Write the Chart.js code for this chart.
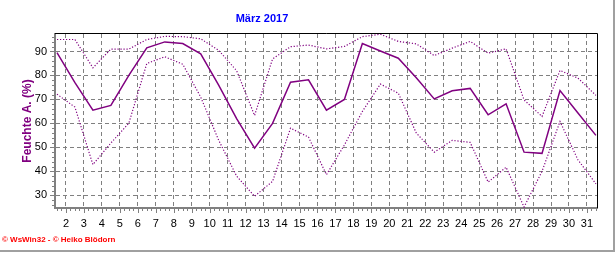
<!DOCTYPE html>
<html><head><meta charset="utf-8">
<script src="https://cdn.jsdelivr.net/npm/chart.js@4/dist/chart.umd.min.js"></script>
<style>
html,body{margin:0;padding:0;background:#fff;}
#wrap{position:relative;width:616px;height:253px;overflow:hidden;background:#fff;}
#frame{position:absolute;left:0;top:0;width:613px;height:250px;border-right:2px solid #a0a0a0;border-bottom:2px solid #a0a0a0;}
#title{position:absolute;top:12px;left:0;width:524px;text-align:center;font:bold 11px "Liberation Sans",Arial,sans-serif;color:#0000ff;}
#foot{position:absolute;left:2px;top:235px;font:bold 8px "Liberation Sans",Arial,sans-serif;color:#ff0000;white-space:nowrap;}
canvas{position:absolute;left:0;top:0;}
</style>
</head><body>
<div id="wrap">
<div id="frame"></div>
<canvas id="c" width="616" height="253"></canvas>
<div id="title">März 2017</div>
<div id="foot">© WsWin32 - © Heiko Blödorn</div>
</div>
<script>
const days = [1,2,3,4,5,6,7,8,9,10,11,12,13,14,15,16,17,18,19,20,21,22,23,24,25,26,27,28,29,30,31];
const humMean = [89.5,77,65.5,67.5,80,91.5,94,93.3,89,76,62,49.7,60,77.2,78.2,65.5,70,93.3,90.2,87.2,79,70.2,73.6,74.6,63.6,68.2,48,47.5,73.7,64.3,55];
const humMax = [95,95,83.2,91,91,95,96.3,96.2,95.3,90.5,82,63.3,86.9,92,92.7,91.1,92.1,96.2,97.2,94.2,93.2,88.3,91.4,94.2,89.3,91.1,69.8,62.9,82.1,78.9,71.7];
const humMin = [72.2,66.8,42.8,51.8,60.1,85,87.8,84.7,71,53,38,29.6,35.8,58,54.3,38.6,51,65,76.4,72.6,56,48,52.9,52.1,35.5,41.7,25.1,40,60.8,44.8,34.8];
const xTickLabels = [2,3,4,5,6,7,8,9,10,11,12,13,14,15,16,17,18,19,20,21,22,23,24,25,26,27,28,29,30,31];
const yTickLabels = [30,40,50,60,70,80,90];

const PURPLE = '#800080';
const GRAY = '#808080';
const pts = arr => arr.map((v,i) => ({x: days[i] + 0.5, y: v}));

const decor = {
  id: 'decor',
  afterDraw(chart) {
    const {ctx, chartArea: a, scales: {x, y}} = chart;
    ctx.save();
    ctx.strokeStyle = '#000';
    ctx.lineWidth = 1;
    ctx.beginPath();
    ctx.moveTo(a.left, a.top - 0.5);
    ctx.lineTo(a.right + 0.5, a.top - 0.5);
    ctx.lineTo(a.right + 0.5, a.bottom);
    ctx.stroke();
    ctx.strokeStyle = GRAY;
    ctx.beginPath();
    for (let q = Math.ceil(x.min * 4); q <= Math.floor(x.max * 4); q++) {
      const v = q / 4;
      const px = Math.round(x.getPixelForValue(v)) + 0.5;
      const len = (q % 4 === 0) ? 4 : 2;
      ctx.moveTo(px, a.bottom + 1);
      ctx.lineTo(px, a.bottom + 1 + len);
    }
    for (let v = Math.ceil(y.min / 2) * 2; v <= y.max; v += 2) {
      const py = Math.round(y.getPixelForValue(v)) + 0.5;
      const len = (v % 10 === 0) ? 4 : 2;
      ctx.moveTo(a.left - 1, py);
      ctx.lineTo(a.left - 1 - len, py);
    }
    ctx.stroke();
    ctx.restore();
  }
};

new Chart(document.getElementById('c'), {
  type: 'line',
  data: {
    datasets: [
      {label: 'Max', data: pts(humMax), borderColor: PURPLE, borderWidth: 1.2, borderDash: [1.2,1.8], pointRadius: 0, tension: 0, fill: false},
      {label: 'Mittel', data: pts(humMean), borderColor: PURPLE, borderWidth: 1.5, pointRadius: 0, tension: 0, fill: false},
      {label: 'Min', data: pts(humMin), borderColor: PURPLE, borderWidth: 1.2, borderDash: [1.2,1.8], pointRadius: 0, tension: 0, fill: false}
    ]
  },
  options: {
    responsive: false,
    animation: false,
    layout: {padding: {left: 0, top: 34, right: 19, bottom: 0}},
    plugins: {legend: {display: false}, tooltip: {enabled: false}, title: {display: false}},
    scales: {
      x: {
        type: 'linear', min: 1.39, max: 31.56,
        afterBuildTicks: s => { s.ticks = xTickLabels.map(v => ({value: v})); },
        afterFit: s => { s.height = 45; },
        grid: {color: GRAY, lineWidth: 1, drawTicks: false},
        border: {display: true, color: GRAY, width: 2, dash: [4,3]},
        ticks: {color: '#000', padding: 9, maxRotation: 0, autoSkip: false, font: {family: '"Liberation Sans", Arial, sans-serif', size: 11}}
      },
      y: {
        type: 'linear', min: 24.7, max: 97.3,
        afterBuildTicks: s => { s.ticks = yTickLabels.map(v => ({value: v})); },
        afterFit: s => { s.width = 55; },
        grid: {color: GRAY, lineWidth: 1, drawTicks: false},
        border: {display: true, color: GRAY, width: 2, dash: [4,3]},
        ticks: {color: '#000', padding: 8, font: {family: '"Liberation Sans", Arial, sans-serif', size: 11}},
        title: {display: true, text: 'Feuchte A. (%)', color: PURPLE, padding: {top: 20, bottom: 0}, font: {family: '"Liberation Sans", Arial, sans-serif', size: 12, weight: 'bold'}}
      }
    }
  },
  plugins: [decor]
});
</script>
</body></html>
